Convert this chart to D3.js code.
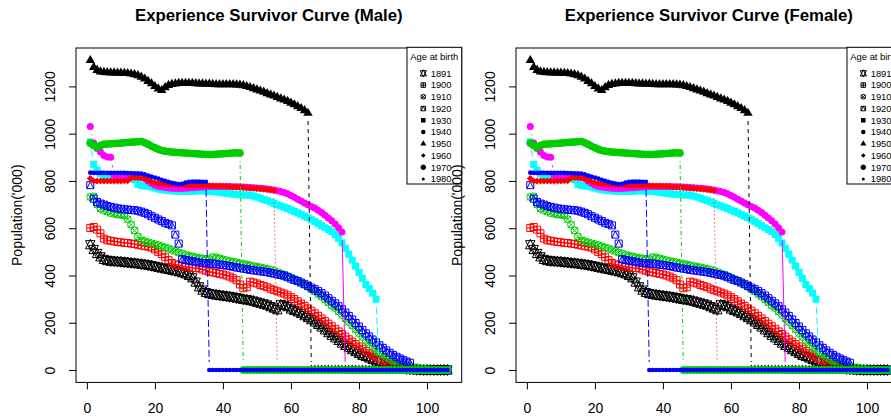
<!DOCTYPE html>
<html>
<head>
<meta charset="utf-8">
<script src="https://cdn.jsdelivr.net/npm/d3@7"></script>
<style>
  body { margin: 0; background: #fff; }
  svg { display: block; }
  text { font-family: "Liberation Sans", Arial, sans-serif; }
</style>
</head>
<body>
<script>
// age index on the x axis
const ages = d3.range(1, 107)

const cohorts = ['1891', '1900', '1910', '1920', '1930', '1940', '1950', '1960', '1970', '1980']
const pchs = [11, 12, 13, 14, 15, 16, 17, 18, 19, 20]

// population ('000) by age, one array per birth cohort (ages 1..106)
const pop1891 = [530, 510, 493, 479, 468, 463, 461, 460, 459, 458,
  456, 455, 453, 452, 450, 448, 446, 444, 441, 438,
  435, 432, 429, 426, 423, 420, 416, 412, 407, 400,
  390, 372, 352, 338, 328, 323, 320, 318, 316, 314,
  312, 310, 308, 305, 302, 299, 297, 295, 291, 287,
  283, 279, 275, 268, 262, 255, 276, 274, 268, 258,
  252, 246, 239, 230, 222, 213, 203, 193, 182, 170,
  158, 147, 136, 125, 114, 104, 95, 86, 78, 70,
  62, 57, 51, 45, 39, 33, 28, 23, 18, 14,
  11, 8, 6, 4, 3, 2, 1, 1, 0, 0,
  0, 0, 0, 0, 0, 0]
const pop1900 = [601, 605, 594, 578, 556, 549, 547, 544, 542, 540,
  538, 537, 535, 533, 530, 527, 524, 522, 518, 510,
  500, 490, 477, 465, 453, 447, 443, 440, 437, 434,
  432, 431, 430, 425, 420, 416, 413, 410, 407, 404,
  400, 395, 388, 380, 362, 346, 350, 374, 370, 366,
  360, 355, 350, 344, 338, 333, 328, 323, 316, 308,
  300, 291, 281, 271, 261, 251, 240, 229, 218, 207,
  196, 185, 174, 163, 152, 141, 130, 120, 110, 100,
  90, 80, 71, 62, 54, 46, 39, 33, 28, 23,
  19, 15, 11, 8, 6, 4, 2, 1, 0, 0,
  0, 0, 0, 0, 0, 0]
const pop1910 = [732, 735, 700, 683, 676, 670, 664, 661, 658, 656,
  654, 638, 615, 590, 565, 549, 545, 540, 536, 532,
  528, 524, 519, 513, 508, 503, 497, 492, 487, 483,
  480, 477, 474, 472, 470, 469, 478, 476, 472, 468,
  465, 461, 458, 455, 452, 449, 446, 443, 440, 437,
  434, 431, 428, 424, 419, 414, 409, 404, 398, 392,
  385, 378, 370, 361, 352, 342, 332, 321, 310, 298,
  286, 272, 262, 248, 233, 218, 203, 188, 172, 156,
  140, 124, 110, 97, 85, 74, 64, 55, 47, 40,
  33, 28, 23, 19, 16, 13, 10, 8, 6, 4,
  3, 2, 1, 1, 0, 0]
const pop1920 = [782, 725, 711, 704, 700, 694, 690, 687, 684, 682,
  680, 679, 677, 676, 674, 670, 665, 659, 651, 644,
  637, 630, 623, 617, 612, 573, 535, 469, 465, 463,
  460, 458, 455, 453, 452, 451, 450, 448, 446, 444,
  442, 440, 437, 434, 432, 429, 427, 424, 422, 420,
  418, 416, 414, 411, 408, 405, 402, 399, 393, 387,
  381, 376, 370, 363, 356, 349, 342, 334, 325, 315,
  304, 293, 282, 270, 257, 243, 229, 214, 199, 184,
  169, 155, 142, 129, 117, 105, 94, 83, 73, 64,
  56, 49, 42, 36, 31, 0, 0, 0, 0, 0,
  0, 0, 0, 0, 0, 0]
const pop1930 = [965, 870, 845, 830, 822, 820, 819, 818, 816, 815,
  813, 811, 809, 806, 786, 781, 779, 777, 774, 770,
  766, 763, 761, 759, 758, 757, 757, 756, 756, 756,
  756, 757, 758, 758, 757, 756, 755, 754, 752, 750,
  748, 746, 744, 743, 742, 741, 740, 740, 736, 732,
  727, 722, 717, 711, 705, 699, 694, 689, 683, 677,
  671, 665, 658, 651, 644, 636, 628, 620, 611, 602,
  594, 585, 573, 557, 538, 515, 490, 465, 440, 413,
  388, 362, 345, 325, 299, 0, 0, 0, 0, 0,
  0, 0, 0, 0, 0, 0, 0, 0, 0, 0,
  0, 0, 0, 0, 0, 0]
const pop1940 = [1030, 960, 937, 922, 908, 901, 900, 824, 822, 821,
  820, 819, 818, 818, 817, 815, 810, 800, 790, 782,
  777, 774, 772, 770, 769, 768, 768, 768, 769, 770,
  771, 772, 773, 774, 775, 776, 776, 776, 776, 776,
  776, 776, 775, 775, 775, 774, 773, 772, 771, 770,
  769, 768, 766, 764, 762, 758, 755, 751, 746, 738,
  731, 723, 715, 707, 699, 692, 685, 676, 666, 655,
  643, 632, 618, 602, 584, 0, 0, 0, 0, 0,
  0, 0, 0, 0, 0, 0, 0, 0, 0, 0,
  0, 0, 0, 0, 0, 0, 0, 0, 0, 0,
  0, 0, 0, 0, 0, 0]
const pop1950 = [1310, 1281, 1268, 1262, 1260, 1259, 1258, 1258, 1257, 1257,
  1256, 1255, 1253, 1250, 1246, 1240, 1232, 1222, 1212, 1200,
  1190, 1183, 1195, 1205, 1209, 1211, 1213, 1214, 1214, 1214,
  1213, 1212, 1211, 1211, 1210, 1210, 1209, 1208, 1208, 1208,
  1208, 1208, 1208, 1207, 1206, 1204, 1200, 1196, 1191, 1186,
  1181, 1176, 1170, 1165, 1160, 1154, 1148, 1143, 1137, 1130,
  1123, 1115, 1107, 1098, 1087, 0, 0, 0, 0, 0,
  0, 0, 0, 0, 0, 0, 0, 0, 0, 0,
  0, 0, 0, 0, 0, 0, 0, 0, 0, 0,
  0, 0, 0, 0, 0, 0, 0, 0, 0, 0,
  0, 0, 0, 0, 0, 0]
const pop1960 = [810, 800, 800, 800, 800, 800, 800, 800, 800, 800,
  801, 801, 812, 814, 814, 813, 810, 803, 797, 792,
  790, 788, 787, 786, 786, 785, 784, 783, 783, 782,
  782, 782, 782, 781, 781, 780, 780, 779, 779, 778,
  777, 776, 775, 774, 773, 772, 771, 770, 769, 768,
  767, 765, 764, 762, 760, 0, 0, 0, 0, 0,
  0, 0, 0, 0, 0, 0, 0, 0, 0, 0,
  0, 0, 0, 0, 0, 0, 0, 0, 0, 0,
  0, 0, 0, 0, 0, 0, 0, 0, 0, 0,
  0, 0, 0, 0, 0, 0, 0, 0, 0, 0,
  0, 0, 0, 0, 0, 0]
const pop1970 = [960, 950, 941, 950, 955, 956, 957, 958, 959, 960,
  962, 963, 964, 965, 966, 967, 962, 955, 947, 940,
  934, 929, 926, 924, 922, 921, 920, 919, 918, 917,
  916, 915, 914, 913, 912, 912, 912, 913, 914, 915,
  916, 917, 918, 919, 918, 0, 0, 0, 0, 0,
  0, 0, 0, 0, 0, 0, 0, 0, 0, 0,
  0, 0, 0, 0, 0, 0, 0, 0, 0, 0,
  0, 0, 0, 0, 0, 0, 0, 0, 0, 0,
  0, 0, 0, 0, 0, 0, 0, 0, 0, 0,
  0, 0, 0, 0, 0, 0, 0, 0, 0, 0,
  0, 0, 0, 0, 0, 0]
const pop1980 = [835, 834, 834, 834, 834, 834, 834, 834, 834, 834,
  834, 833, 833, 832, 832, 831, 828, 823, 818, 814,
  810, 805, 800, 796, 792, 789, 786, 788, 793, 796,
  797, 797, 797, 796, 796, 0, 0, 0, 0, 0,
  0, 0, 0, 0, 0, 0, 0, 0, 0, 0,
  0, 0, 0, 0, 0, 0, 0, 0, 0, 0,
  0, 0, 0, 0, 0, 0, 0, 0, 0, 0,
  0, 0, 0, 0, 0, 0, 0, 0, 0, 0,
  0, 0, 0, 0, 0, 0, 0, 0, 0, 0,
  0, 0, 0, 0, 0, 0, 0, 0, 0, 0,
  0, 0, 0, 0, 0, 0]

const series = [pop1891, pop1900, pop1910, pop1920, pop1930, pop1940, pop1950, pop1960, pop1970, pop1980]

const xTicks = [0, 20, 40, 60, 80, 100]
const yTicks = [0, 200, 400, 600, 800, 1000, 1200]

const W = 891
const H = 419
const palette = ['#000000', '#FF0000', '#00CD00', '#0000FF', '#00FFFF', '#FF00FF']
const dashes = [null, '4,4', '1,3', '1,3,4,3', '7,3']

const svg = d3.select('body').append('svg')
  .attr('width', W)
  .attr('height', H)

// R style 4% axis extension
const pad = ([a, b]) => [a - (b - a) * 0.04, b + (b - a) * 0.04]
const allVals = series.flat()

const circ = (cx, cy, r) => `M${cx - r},${cy}a${r},${r} 0 1,0 ${2 * r},0a${r},${r} 0 1,0 ${-2 * r},0Z`

// R plotting symbols 11..20
const pchShape = (pch, cx, cy, k) => {
  const r = 3.5 * k
  if (pch === 11) {
    const rr = 1.5551 * r
    const yc = 0.5 * (0.7776 * r + rr)
    const xc = 1.3468 * r
    return { d: `M${cx - xc},${cy + yc}L${cx + xc},${cy + yc}L${cx},${cy - rr}Z` +
      `M${cx - xc},${cy - yc}L${cx + xc},${cy - yc}L${cx},${cy + rr}Z`, fill: false }
  }
  if (pch === 12) {
    return { d: `M${cx - r},${cy - r}h${2 * r}v${2 * r}h${-2 * r}Z` +
      `M${cx - r},${cy}h${2 * r}M${cx},${cy - r}v${2 * r}`, fill: false }
  }
  if (pch === 13) {
    return { d: circ(cx, cy, r) + `M${cx - r},${cy - r}L${cx + r},${cy + r}M${cx - r},${cy + r}L${cx + r},${cy - r}`, fill: false }
  }
  if (pch === 14) {
    return { d: `M${cx - r},${cy - r}h${2 * r}v${2 * r}h${-2 * r}Z` +
      `M${cx - r},${cy + r}L${cx},${cy - r}L${cx + r},${cy + r}`, fill: false }
  }
  if (pch === 15) return { d: `M${cx - r},${cy - r}h${2 * r}v${2 * r}h${-2 * r}Z`, fill: true }
  if (pch === 16) return { d: circ(cx, cy, r), fill: true }
  if (pch === 17) {
    const rr = 1.5551 * r
    const yc = 0.7776 * r
    const xc = 1.3468 * r
    return { d: `M${cx - xc},${cy + yc}L${cx + xc},${cy + yc}L${cx},${cy - rr}Z`, fill: true }
  }
  if (pch === 18) return { d: `M${cx - r},${cy}L${cx},${cy - r}L${cx + r},${cy}L${cx},${cy + r}Z`, fill: true }
  if (pch === 19) return { d: circ(cx, cy, r), fill: true, border: true }
  return { d: circ(cx, cy, r * 2 / 3), fill: true }
}

const drawSymbol = (g, pch, cx, cy, col, k) => {
  const s = pchShape(pch, cx, cy, k)
  g.append('path')
    .attr('d', s.d)
    .attr('fill', s.fill ? col : 'none')
    .attr('stroke', s.fill && !s.border ? 'none' : col)
    .attr('stroke-width', 1)
}

// type = "b": segments with a gap round each point
const gappedPath = (pts, gap) => {
  let d = ''
  for (let i = 1; i < pts.length; i++) {
    const [x0, y0] = pts[i - 1]
    const [x1, y1] = pts[i]
    const len = Math.hypot(x1 - x0, y1 - y0)
    if (len <= 2 * gap) continue
    const f = gap / len
    d += `M${x0 + (x1 - x0) * f},${y0 + (y1 - y0) * f}L${x1 - (x1 - x0) * f},${y1 - (y1 - y0) * f}`
  }
  return d
}

const drawPanel = (title, dx) => {
  const left = 76 + dx
  const right = 461.7 + dx
  const top = 48
  const bottom = 382.4

  const x = d3.scaleLinear().domain(pad(d3.extent(ages))).range([left, right])
  const y = d3.scaleLinear().domain(pad(d3.extent(allVals))).range([bottom, top])

  const g = svg.append('g')

  // series
  series.forEach((vals, i) => {
    const col = palette[i % 6]
    const pts = vals.map((v, j) => [x(ages[j]), y(v)])
    g.append('path')
      .attr('d', gappedPath(pts, 8))
      .attr('fill', 'none')
      .attr('stroke', col)
      .attr('stroke-width', 1)
      .attr('stroke-dasharray', dashes[i % 5])
    const pg = g.append('g')
    pts.forEach(p => drawSymbol(pg, pchs[i], p[0], p[1], col, 1))
  })

  // box
  g.append('rect')
    .attr('x', left).attr('y', top)
    .attr('width', right - left).attr('height', bottom - top)
    .attr('fill', 'none').attr('stroke', '#000').attr('stroke-width', 1)

  // axes
  const xAxis = g.append('g')
    .attr('transform', `translate(0,${bottom})`)
    .call(d3.axisBottom(x).tickValues(xTicks).tickFormat(d3.format('d')).tickSize(7).tickSizeOuter(0))
  xAxis.select('.domain').remove()
  xAxis.selectAll('text')
    .attr('y', 31).attr('dy', null)
    .attr('font-size', 14).attr('font-family', null).attr('fill', '#000')

  const yAxis = g.append('g')
    .attr('transform', `translate(${left},0)`)
    .call(d3.axisLeft(y).tickValues(yTicks).tickFormat(d3.format('d')).tickSize(7).tickSizeOuter(0))
  yAxis.select('.domain').remove()
  yAxis.selectAll('text')
    .attr('x', null).attr('dy', null)
    .attr('transform', 'translate(-21,0) rotate(-90)')
    .attr('text-anchor', 'middle')
    .attr('font-size', 14).attr('font-family', null).attr('fill', '#000')

  // labels
  g.append('text')
    .attr('transform', `translate(${22 + dx},${(top + bottom) / 2}) rotate(-90)`)
    .attr('text-anchor', 'middle')
    .attr('font-size', 14)
    .text("Population('000)")

  g.append('text')
    .attr('x', (left + right) / 2)
    .attr('y', 20.5)
    .attr('text-anchor', 'middle')
    .attr('font-size', 16.8)
    .attr('font-weight', 'bold')
    .text(title)

  // legend
  const lg = g.append('g')
  lg.append('rect')
    .attr('x', 407 + dx).attr('y', top - 0.7)
    .attr('width', right - 407 - dx).attr('height', 184 - top + 0.7)
    .attr('fill', '#fff').attr('stroke', '#000').attr('stroke-width', 1)
  lg.append('text')
    .attr('x', (407 + dx + right) / 2)
    .attr('y', 59.8)
    .attr('text-anchor', 'middle')
    .attr('font-size', 9.4)
    .text('Age at birth')
  cohorts.forEach((c, i) => {
    const cy = 73.3 + i * 11.75
    drawSymbol(lg, pchs[i], 423.3 + dx, cy, '#000', 0.65)
    lg.append('text')
      .attr('x', 430.7 + dx)
      .attr('y', cy + 3.3)
      .attr('font-size', 9.4)
      .text(c)
  })
}

drawPanel('Experience Survivor Curve (Male)', 0)
drawPanel('Experience Survivor Curve (Female)', 440)
</script>
</body>
</html>
